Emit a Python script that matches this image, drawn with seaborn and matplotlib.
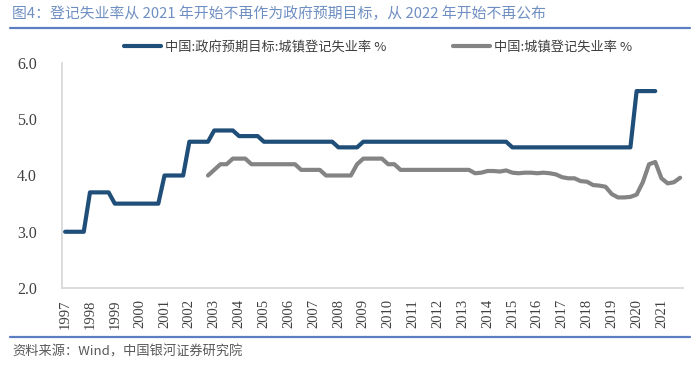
import numpy as np
import pandas as pd
import matplotlib
matplotlib.use("Agg")
import matplotlib.pyplot as plt
import seaborn as sns

years = list(range(1997, 2022))
quarters = ["Q1", "Q2", "Q3", "Q4"]

# 中国:政府预期目标:城镇登记失业率 % (quarterly, by year)
target = [
    3.0, 3.0, 3.0, 3.0,   # 1997
    3.7, 3.7, 3.7, 3.7,   # 1998
    3.5, 3.5, 3.5, 3.5,   # 1999
    3.5, 3.5, 3.5, 3.5,   # 2000
    4.0, 4.0, 4.0, 4.0,   # 2001
    4.6, 4.6, 4.6, 4.6,   # 2002
    4.8, 4.8, 4.8, 4.8,   # 2003
    4.7, 4.7, 4.7, 4.7,   # 2004
    4.6, 4.6, 4.6, 4.6,   # 2005
    4.6, 4.6, 4.6, 4.6,   # 2006
    4.6, 4.6, 4.6, 4.6,   # 2007
    4.5, 4.5, 4.5, 4.5,   # 2008
    4.6, 4.6, 4.6, 4.6,   # 2009
    4.6, 4.6, 4.6, 4.6,   # 2010
    4.6, 4.6, 4.6, 4.6,   # 2011
    4.6, 4.6, 4.6, 4.6,   # 2012
    4.6, 4.6, 4.6, 4.6,   # 2013
    4.6, 4.6, 4.6, 4.6,   # 2014
    4.5, 4.5, 4.5, 4.5,   # 2015
    4.5, 4.5, 4.5, 4.5,   # 2016
    4.5, 4.5, 4.5, 4.5,   # 2017
    4.5, 4.5, 4.5, 4.5,   # 2018
    4.5, 4.5, 4.5, 4.5,   # 2019
    5.5, 5.5, 5.5, 5.5,   # 2020
    None, None, None, None,  # 2021
]

# 中国:城镇登记失业率 % (quarterly, by year)
actual = [
    None, None, None, None,  # 1997
    None, None, None, None,  # 1998
    None, None, None, None,  # 1999
    None, None, None, None,  # 2000
    None, None, None, None,  # 2001
    None, None, None, 4.0,   # 2002
    4.1, 4.2, 4.2, 4.3,      # 2003
    4.3, 4.3, 4.2, 4.2,      # 2004
    4.2, 4.2, 4.2, 4.2,      # 2005
    4.2, 4.2, 4.1, 4.1,      # 2006
    4.1, 4.1, 4.0, 4.0,      # 2007
    4.0, 4.0, 4.0, 4.2,      # 2008
    4.3, 4.3, 4.3, 4.3,      # 2009
    4.2, 4.2, 4.1, 4.1,      # 2010
    4.1, 4.1, 4.1, 4.1,      # 2011
    4.1, 4.1, 4.1, 4.1,      # 2012
    4.1, 4.1, 4.04, 4.05,    # 2013
    4.08, 4.08, 4.07, 4.09,  # 2014
    4.05, 4.04, 4.05, 4.05,  # 2015
    4.04, 4.05, 4.04, 4.02,  # 2016
    3.97, 3.95, 3.95, 3.90,  # 2017
    3.89, 3.83, 3.82, 3.80,  # 2018
    3.67, 3.61, 3.61, 3.62,  # 2019
    3.66, 3.88, 4.20, 4.24,  # 2020
    3.95, 3.86, 3.88, 3.96,  # 2021
]

label_target = "中国:政府预期目标:城镇登记失业率 %"
label_actual = "中国:城镇登记失业率 %"
title_text = "图4：登记失业率从 2021 年开始不再作为政府预期目标，从 2022 年开始不再公布"
source_text = "资料来源：Wind，中国银河证券研究院"
y_ticks = [2.0, 3.0, 4.0, 5.0, 6.0]

period = [f"{y}{q}" for y in years for q in quarters]
df = pd.DataFrame({
    "period": period,
    "idx": range(len(period)),
    "target": pd.to_numeric(pd.Series(target), errors="coerce"),
    "actual": pd.to_numeric(pd.Series(actual), errors="coerce"),
})

sns.set_theme(style="white")
plt.rcParams["font.family"] = ["Noto Sans CJK SC", "DejaVu Sans"]

fig = plt.figure(figsize=(7.0, 3.66), dpi=100)
ax = fig.add_axes([0.0886, 0.213, 0.976 - 0.0886, 0.828 - 0.213])

blue = "#1f4e79"
gray = "#848484"
sns.lineplot(data=df.dropna(subset=["target"]), x="idx", y="target", ax=ax,
             color=blue, linewidth=3.0, label=label_target, legend=False)
sns.lineplot(data=df.dropna(subset=["actual"]), x="idx", y="actual", ax=ax,
             color=gray, linewidth=3.0, label=label_actual, legend=False)

ax.set_xlim(-0.5, len(period) - 0.5)
ax.set_ylim(2.0, 6.0)
ax.set_xlabel("")
ax.set_ylabel("")

xt = [i for i in range(0, len(period), 4)]
ax.set_xticks(xt)
ax.set_xticklabels([str(y) for y in years], rotation=90, fontsize=10.5,
                   family=["Liberation Serif"], color="#404040")
ax.set_yticks(y_ticks)
ax.set_yticklabels([f"{v:.1f}" for v in y_ticks], fontsize=11.5,
                   family=["Liberation Serif"], color="#404040")
ax.tick_params(axis="x", length=0, pad=8)
ax.tick_params(axis="y", length=0, pad=18)

for s in ["top", "right"]:
    ax.spines[s].set_visible(False)
for s in ["left", "bottom"]:
    ax.spines[s].set_color("#d9d9d9")
    ax.spines[s].set_linewidth(1.3)

handles, labels = ax.get_legend_handles_labels()
fig.legend(handles, labels, loc="center", bbox_to_anchor=(0.54, 0.872),
           ncol=2, frameon=False, fontsize=9.5, handlelength=2.8,
           handletextpad=0.3, columnspacing=5.0, labelcolor="#404040")

# title and rules
fig.text(0.017, 1 - 14 / 366, title_text, fontsize=10.7, color="#6f8fc2",
         ha="left", va="center")
fig.add_artist(plt.Line2D([10 / 700, 690 / 700], [1 - 28 / 366, 1 - 28 / 366],
                          color="#5b7fc0", linewidth=1.6))
fig.add_artist(plt.Line2D([10 / 700, 690 / 700], [1 - 337 / 366, 1 - 337 / 366],
                          color="#5b7fc0", linewidth=1.6))
fig.text(0.017, 1 - 352 / 366, source_text, fontsize=9.5, color="#595959",
         ha="left", va="center", style="italic")

fig.savefig("out.png", dpi=100)
